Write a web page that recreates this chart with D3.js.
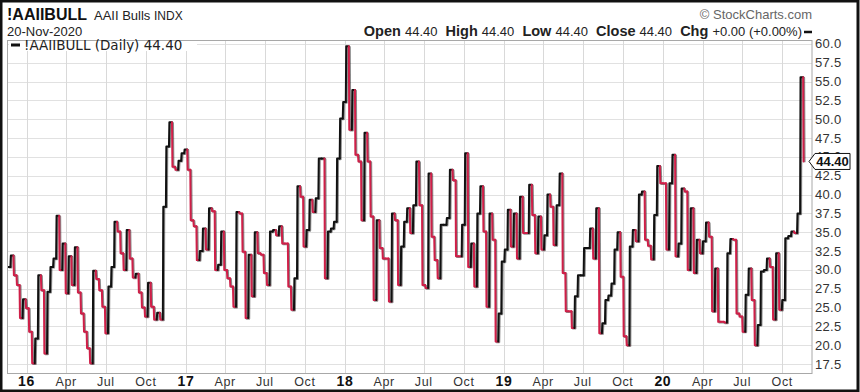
<!DOCTYPE html>
<meta charset="utf-8">
<script src="https://cdn.jsdelivr.net/npm/d3@7"></script>
<style>
  body { margin: 0; background: #fff; }
  svg { display: block; font-family: Arial, "Liberation Sans", sans-serif; }
</style>
<div id="chart"></div>
<script>

// header texts
var symbol = "!AAIIBULL";
var fullName = "AAII Bulls";
var exchange = "INDX";
var asOf = "20-Nov-2020";
var quote = [["Open", "44.40"], ["High", "44.40"], ["Low", "44.40"], ["Close", "44.40"], ["Chg", "+0.00 (+0.00%)"]];
var legendText = "!AAIIBULL (Daily) 44.40";
var lastValue = 44.40;

// weekly readings (% bullish), one per week starting on this date
var firstWeek = "2015-11-19";
var bulls = [
  30.4, 31.9, 29.3, 28.0, 23.6, 26.1, 24.9, 21.8, 17.6, 20.9,
  29.3, 27.3, 18.9, 27.1, 30.4, 31.5, 37.2, 30.0, 33.5, 26.9,
  31.8, 28.0, 33.0, 27.0, 24.2, 21.8, 19.6, 17.6, 29.9, 28.8,
  27.3, 25.1, 21.6, 27.8, 30.4, 36.4, 35.1, 32.2, 30.0, 35.3,
  31.5, 29.0, 29.5, 27.0, 25.0, 23.8, 28.3, 25.1, 23.4, 24.3,
  23.4, 38.4, 46.4, 49.6, 43.7, 43.3, 44.5, 45.5, 46.0, 43.3,
  36.6, 35.8, 31.3, 32.5, 35.5, 32.7, 38.2, 37.8, 30.0, 30.7,
  35.1, 30.0, 28.9, 27.8, 25.1, 37.7, 37.5, 32.4, 23.6, 32.0,
  26.5, 35.0, 32.2, 32.0, 29.6, 28.0, 35.1, 35.3, 34.6, 35.8,
  33.5, 33.5, 27.8, 24.7, 28.9, 41.1, 39.7, 33.1, 35.3, 39.3,
  37.7, 39.5, 44.8, 44.8, 28.9, 35.1, 35.5, 36.4, 44.8, 50.1,
  52.3, 59.7, 48.6, 53.9, 45.3, 44.4, 36.6, 48.2, 44.4, 37.1,
  26.0, 36.6, 32.9, 31.5, 31.5, 25.8, 37.5, 36.6, 28.0, 33.1,
  36.4, 38.2, 34.9, 38.6, 44.4, 38.6, 28.0, 27.6, 42.8, 34.4,
  31.3, 28.9, 36.0, 36.0, 36.9, 43.3, 41.9, 31.8, 31.8, 36.0,
  45.5, 30.4, 33.5, 27.8, 37.5, 41.1, 35.1, 25.1, 37.5, 34.0,
  20.5, 24.2, 31.1, 32.7, 38.0, 33.1, 37.5, 31.5, 39.7, 34.9,
  34.9, 41.3, 37.3, 32.2, 37.1, 32.7, 34.6, 40.0, 38.4, 33.3,
  38.6, 42.8, 29.6, 24.5, 24.5, 22.3, 26.5, 29.3, 29.3, 32.9,
  32.9, 35.5, 31.5, 38.2, 21.6, 22.9, 26.0, 26.6, 28.2, 32.7,
  35.0, 29.1, 21.2, 20.0, 33.1, 35.3, 33.8, 40.0, 40.4, 34.0,
  33.2, 31.4, 37.3, 43.8, 41.5, 41.5, 32.7, 41.5, 45.3, 31.8,
  33.5, 40.8, 40.4, 30.0, 38.2, 29.6, 34.0, 32.2, 33.8, 36.3,
  34.4, 24.5, 30.2, 23.1, 23.1, 23.0, 32.2, 34.1, 34.0, 24.2,
  23.8, 21.8, 26.7, 30.2, 26.0, 20.0, 22.7, 29.8, 30.0, 31.5,
  30.4, 23.4, 32.2, 24.7, 26.0, 34.2, 34.5, 35.1, 34.9, 37.5,
  55.6, 44.4
];

// y axis tick labels
var yTicks = [17.5, 20, 22.5, 25, 27.5, 30, 32.5, 35, 37.5, 40, 42.5, 45, 47.5, 50, 52.5, 55, 57.5, 60];

var upColor = "#111", downColor = "#cf1f48";

// plot box
var box = {left: 8, right: 812, top: 40, bottom: 373};

var svg = d3.select("#chart")
  .append("svg")
    .attr("width", 860)
    .attr("height", 392);

var start = d3.timeParse("%Y-%m-%d")(firstWeek);
var data = bulls.map(function(v, i) { return {date: d3.timeDay.offset(start, 7 * i), value: v}; });

var x = d3.scaleTime()
  .domain([new Date(2015, 10, 19, 12), new Date(2020, 11, 8, 8)])
  .range([box.left, box.right]);

var y = d3.scaleLinear()
  .domain([16.31, 60.53])
  .range([box.bottom, box.top]);

// grid
var quarters = x.ticks(d3.timeMonth.every(3));
svg.append("g").selectAll("line")
  .data(yTicks)
  .enter().append("line")
    .attr("x1", box.left).attr("x2", box.right)
    .attr("y1", function(d) { return Math.round(y(d)) + 0.5; })
    .attr("y2", function(d) { return Math.round(y(d)) + 0.5; })
    .attr("stroke", "#e1e1e1");
svg.append("g").selectAll("line")
  .data(quarters)
  .enter().append("line")
    .attr("y1", box.top).attr("y2", box.bottom)
    .attr("x1", function(d) { return Math.round(x(d)) + 0.5; })
    .attr("x2", function(d) { return Math.round(x(d)) + 0.5; })
    .attr("stroke", "#d9d9d9");

// plot frame
svg.append("rect")
  .attr("x", box.left - 0.5).attr("y", box.top + 0.5)
  .attr("width", box.right - box.left + 0.5).attr("height", box.bottom - box.top)
  .attr("fill", "none")
  .attr("stroke", "#a8a8a8");

// legend (white box hides the grid behind it)
svg.append("rect")
  .attr("x", box.left + 1).attr("y", box.top + 1)
  .attr("width", 188).attr("height", 10)
  .attr("fill", "#fff");
svg.append("line")
  .attr("x1", 11).attr("x2", 20).attr("y1", 45).attr("y2", 45)
  .attr("stroke", "#111").attr("stroke-width", 3);
svg.append("text")
  .attr("x", 24).attr("y", 50)
  .style("font-family", "'DejaVu Sans', Verdana, sans-serif")
  .style("font-size", "13.5px")
  .attr("fill", "#222")
  .text(legendText);

// step line, one piece per week, coloured by direction
svg.append("clipPath").attr("id", "plotclip")
  .append("rect").attr("x", box.left).attr("y", box.top)
  .attr("width", box.right - box.left).attr("height", box.bottom - box.top);

var pts = [];
data.forEach(function(d, i) {
  var next = i < data.length - 1 ? x(d3.timeDay.offset(data[i + 1].date, -1)) : x(d.date);
  if (i > 0) pts.push([x(d3.timeDay.offset(d.date, -1)), y(data[i - 1].value)]);
  pts.push([x(d.date), y(d.value)]);
  pts.push([next, y(d.value)]);
});

var line = d3.line();
var g = svg.append("g").attr("clip-path", "url(#plotclip)");

// soft dark shadow under the line
g.append("path")
  .attr("d", line(pts))
  .attr("transform", "translate(1,0.7)")
  .attr("fill", "none")
  .attr("stroke", "#000")
  .attr("stroke-opacity", 0.45)
  .attr("stroke-width", 2)
  .attr("stroke-linejoin", "round");

var color = upColor;
data.forEach(function(d, i) {
  var seg = [];
  var next = i < data.length - 1 ? x(d3.timeDay.offset(data[i + 1].date, -1)) : x(d.date);
  if (i > 0) {
    if (d.value > data[i - 1].value) color = upColor;
    else if (d.value < data[i - 1].value) color = downColor;
    seg.push([x(d3.timeDay.offset(d.date, -1)), y(data[i - 1].value)]);
  }
  seg.push([x(d.date), y(d.value)]);
  seg.push([next, y(d.value)]);
  g.append("path")
    .attr("d", line(seg))
    .attr("fill", "none")
    .attr("stroke", color)
    .attr("stroke-width", 2)
    .attr("stroke-linejoin", "round")
    .attr("stroke-linecap", "round");
});

// right axis labels
svg.append("g").selectAll("text")
  .data(yTicks)
  .enter().append("text")
    .attr("x", 815)
    .attr("y", function(d) { return y(d) + 4.5; })
    .style("font-size", "13px")
    .style("letter-spacing", "0.3px")
    .attr("fill", "#333")
    .text(function(d) { return d3.format(".1f")(d); });

// last value tag
var ty = y(lastValue);
svg.append("path")
  .attr("d", "M809," + ty + "L815," + (ty - 8) + "L850," + (ty - 8) + "L850," + (ty + 8) + "L815," + (ty + 8) + "Z")
  .attr("fill", "#fff")
  .attr("stroke", "#111")
  .attr("stroke-width", 1);
svg.append("text")
  .attr("x", 832.5).attr("y", ty + 5)
  .attr("text-anchor", "middle")
  .style("font-size", "13px")
  .style("font-weight", "bold")
  .attr("fill", "#111")
  .text(d3.format(".2f")(lastValue));

// bottom axis labels
svg.append("g").selectAll("text")
  .data(quarters)
  .enter().append("text")
    .attr("x", function(d) { return x(d); })
    .attr("y", 386)
    .attr("text-anchor", "middle")
    .style("font-size", function(d) { return d.getMonth() === 0 ? "14px" : "12.5px"; })
    .style("font-weight", function(d) { return d.getMonth() === 0 ? "bold" : "normal"; })
    .style("letter-spacing", "0.6px")
    .attr("fill", function(d) { return d.getMonth() === 0 ? "#111" : "#333"; })
    .text(function(d) { return d.getMonth() === 0 ? d3.timeFormat("%y")(d) : d3.timeFormat("%b")(d); });

// header
svg.append("text")
  .attr("x", 7).attr("y", 20)
  .style("font-size", "16px").style("font-weight", "bold")
  .attr("fill", "#111")
  .text(symbol);
var sub = svg.append("text").attr("x", 94).attr("y", 19.5).attr("fill", "#222");
sub.append("tspan").style("font-size", "13px").text(fullName + " ");
sub.append("tspan").style("font-size", "12px").text(exchange);

svg.append("text")
  .attr("x", 7).attr("y", 35.5)
  .style("font-size", "13px")
  .attr("fill", "#222")
  .text(asOf);

svg.append("text")
  .attr("x", 812).attr("y", 18.5)
  .attr("text-anchor", "end")
  .style("font-size", "13px")
  .attr("fill", "#666")
  .text("\u00a9 StockCharts.com");

var q = svg.append("text")
  .attr("x", 802).attr("y", 36)
  .attr("text-anchor", "end")
  .attr("xml:space", "preserve")
  .attr("fill", "#222");
quote.forEach(function(p, i) {
  q.append("tspan").style("font-size", "14.5px").style("font-weight", "bold").text((i ? "  " : "") + p[0] + " ");
  q.append("tspan").style("font-size", "13px").text(p[1]);
});
svg.append("line")
  .attr("x1", 804).attr("x2", 812).attr("y1", 32).attr("y2", 32)
  .attr("stroke", "#111").attr("stroke-width", 2.5);

// outer border
svg.append("rect")
  .attr("x", 1).attr("y", 1).attr("width", 857).attr("height", 390)
  .attr("fill", "none")
  .attr("stroke", "#111")
  .attr("stroke-width", 3);

</script>
